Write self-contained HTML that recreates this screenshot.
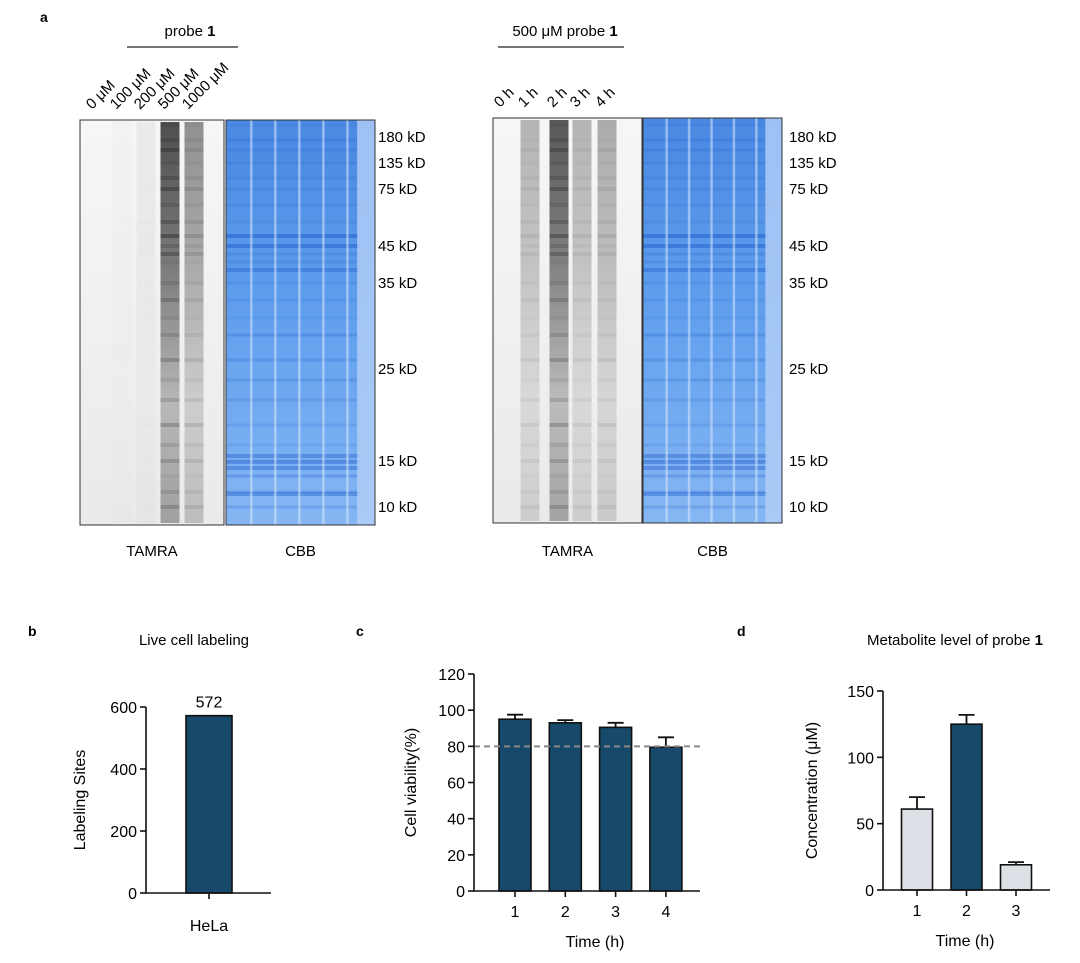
<!DOCTYPE html>
<html><head><meta charset="utf-8"><style>
body{margin:0;background:#fff;}
svg{display:block;font-family:"Liberation Sans",Arial,sans-serif;}
</style></head><body>
<svg id="fig" width="1080" height="963" viewBox="0 0 1080 963">
<defs>
<linearGradient id="cbbG" x1="0" y1="0" x2="0" y2="1">
<stop offset="0" stop-color="#4a88e2"/><stop offset="0.5" stop-color="#62a0ee"/><stop offset="1" stop-color="#86b6f3"/>
</linearGradient>
<linearGradient id="tamG" x1="0" y1="0" x2="0" y2="1">
<stop offset="0" stop-color="#f6f6f6"/><stop offset="1" stop-color="#eaeaea"/>
</linearGradient>
<linearGradient id="laneG" x1="0" y1="0" x2="0" y2="1">
<stop offset="0" stop-color="#000" stop-opacity="0.75"/><stop offset="0.35" stop-color="#000" stop-opacity="0.55"/><stop offset="0.7" stop-color="#000" stop-opacity="0.25"/><stop offset="1" stop-color="#000" stop-opacity="0.35"/>
</linearGradient>
</defs>
<g id="gels"></g>
<g id="charts"></g>
</svg>
<script>
const NS='http://www.w3.org/2000/svg';
function mk(parent,tag,attrs,text){const e=document.createElementNS(NS,tag);for(const k in attrs)e.setAttribute(k,attrs[k]);if(text!==undefined)e.textContent=text;parent.appendChild(e);return e;}
const svg=document.getElementById('fig');
const gels=document.getElementById('gels');

// ---------- Panel a ----------
const doseLabels=['0 μM','100 μM','200 μM','500 μM','1000 μM'];
const timeLabels=['0 h','1 h','2 h','3 h','4 h'];
const markerLabels=['180 kD','135 kD','75 kD','45 kD','35 kD','25 kD','15 kD','10 kD'];
const markerY=[137,163,189,246,283,369,461,507];
const leftIntensity=[0,0.02,0.06,0.9,0.55];
const rightIntensity=[0,0.35,0.85,0.35,0.4];
const bandY=[125,140,150,163,178,189,205,222,236,246,254,262,283,300,318,335,360,380,400,425,445,461,476,492,507];

let t=mk(svg,'text',{x:40,y:22,'font-size':14,'font-weight':'bold'},'a');


function gelPair(x0,w0,x1,w1,y0,y1,intens,lanes,laneCx,laneW,header,headerX,lineX1,lineX2,markX,name){
  const g=mk(gels,'g',{});
  
  const h=mk(g,'text',{x:headerX,y:36,'font-size':15,'text-anchor':'middle'});
  h.innerHTML=header+' <tspan font-weight="bold">1</tspan>';
  
  const l=mk(g,'line',{x1:lineX1,x2:lineX2,y1:47,y2:47,stroke:'#222','stroke-width':1.3});
  
  // TAMRA
  mk(g,'rect',{x:x0,y:y0,width:w0,height:y1-y0,fill:'url(#tamG)'});
  intens.forEach((v,i)=>{
    if(v<=0)return;
    const lx=laneCx[i]-laneW/2;
    const lg=mk(g,'g',{opacity:v});
    
    mk(lg,'rect',{x:lx,y:y0+2,width:laneW,height:y1-y0-4,fill:'url(#laneG)'});
    bandY.forEach((by,j)=>{
      const o=(0.1+0.3*((j*37)%11)/11)*(by<260?1:0.6);
      mk(lg,'rect',{x:lx,y:by-2,width:laneW,height:4,fill:'#000',opacity:o});
    });
  });
  const fr=mk(g,'rect',{x:x0,y:y0,width:w0,height:y1-y0,fill:'none',stroke:'#333','stroke-width':1});
  
  // CBB
  mk(g,'rect',{x:x1,y:y0,width:w1,height:y1-y0,fill:'url(#cbbG)'});
  bandY.forEach((by,j)=>{
    mk(g,'rect',{x:x1,y:by-1.5,width:w1*0.88,height:3,fill:'#2a66d0',opacity:0.12+0.2*((j*13)%7)/7});
  });
  [236,246,270,456,462,468,494].forEach(by=>mk(g,'rect',{x:x1,y:by-2,width:w1*0.9,height:4,fill:'#2460cc',opacity:0.4}));
  for(let i=1;i<=5;i++){
    const sx=x1+i*w1/6.2;
    mk(g,'rect',{x:sx,y:y0,width:2.5,height:y1-y0,fill:'#d6e6fc',opacity:0.55});
  }
  mk(g,'rect',{x:x1+w1*0.88,y:y0,width:w1*0.12,height:y1-y0,fill:'#b3d0f8',opacity:0.8});
  const fc=mk(g,'rect',{x:x1,y:y0,width:w1,height:y1-y0,fill:'none',stroke:'#333','stroke-width':1});
  
  lanes.forEach((s,i)=>{
    const lx=laneCx[i]-6, ly=y0-10;
    const tl=mk(g,'text',{x:lx,y:ly,'font-size':15,transform:`rotate(-45 ${lx} ${ly})`},s);
    
  });
  markerLabels.forEach((s,i)=>{
    const m=mk(g,'text',{x:markX,y:markerY[i]+5,'font-size':15},s);
    
  });
  const a=mk(g,'text',{x:x0+w0/2,y:556,'font-size':15,'text-anchor':'middle'},'TAMRA');
  
  const b=mk(g,'text',{x:x1+w1/2,y:556,'font-size':15,'text-anchor':'middle'},'CBB');
  
}
gelPair(80,144,226,149,120,525,leftIntensity,doseLabels,[98,122,146,170,194],19,'probe',190,127,238,378,'dose-gel-pair');
gelPair(493,149,643,139,118,523,rightIntensity,timeLabels,[506,530,559,582,607],19,'500 μM probe',565,498,624,789,'time-gel-pair');

// ---------- Panel b ----------
const bCats=['HeLa'];
const bVals=[572];
// ---------- Panel c ----------
const cCats=['1','2','3','4'];
const cVals=[95,93,90.5,79.5];
const cErr=[2.5,1.5,2.5,5.5];
const cTicks=[0,20,40,60,80,100,120];
const cThreshold=80;
// ---------- Panel d ----------
const dCats=['1','2','3'];
const dVals=[61,125,19];
const dErr=[9,7,2];
const dTicks=[0,50,100,150];

function chart(o){
  const g=mk(document.getElementById('charts'),'g',{});
  
  const y=v=>o.y0-(v-o.min)/(o.max-o.min)*(o.y0-o.y1);
  const x=i=>o.cx0+i*o.step;
  const pl=mk(g,'text',{x:o.lx,y:o.ly,'font-size':14,'font-weight':'bold'},o.letter);
  
  if(o.title){const tt=mk(g,'text',{x:o.tx,y:o.ty,'font-size':15,'text-anchor':'middle'});tt.innerHTML=o.title;
    }
  o.vals.forEach((v,i)=>{
    if(o.err){
      const e=mk(g,'path',{d:`M${x(i)} ${y(v)}V${y(v+o.err[i])}M${x(i)-8} ${y(v+o.err[i])}H${x(i)+8}`,stroke:'#111','stroke-width':1.8,fill:'none'});
      
    }
    const r=mk(g,'rect',{x:x(i)-o.bw/2,y:y(v),width:o.bw,height:y(o.min)-y(v),fill:o.colors?o.colors[i]:'#17496a',stroke:'#111','stroke-width':1.6});
    
    if(o.showVal){const vt=mk(g,'text',{x:x(i),y:y(v)-8,'font-size':16,'text-anchor':'middle'},String(v));
      }
    const tk=mk(g,'line',{x1:x(i),x2:x(i),y1:o.y0,y2:o.y0+6,stroke:'#111','stroke-width':1.6});
    
    const tl=mk(g,'text',{x:x(i),y:o.y0+(o.catOff||26),'font-size':16,'text-anchor':'middle'},o.cats[i]);
    
  });
  if(o.thr!==undefined){
    const d=mk(g,'line',{x1:o.ax,x2:o.axEnd,y1:y(o.thr),y2:y(o.thr),stroke:'#888','stroke-width':2,'stroke-dasharray':'6 4'});
    
  }
  const ax=mk(g,'path',{d:`M${o.ax} ${y(o.max)}V${o.y0}H${o.axEnd}`,stroke:'#111','stroke-width':1.6,fill:'none'});
  
  o.ticks.forEach(v=>{
    const tk=mk(g,'line',{x1:o.ax-6,x2:o.ax,y1:y(v),y2:y(v),stroke:'#111','stroke-width':1.6});
    
    const tl=mk(g,'text',{x:o.ax-9,y:y(v)+6,'font-size':16,'text-anchor':'end'},String(v));
    
  });
  const yt=mk(g,'text',{x:o.ytx,y:(o.y0+y(o.max))/2,'font-size':16,'text-anchor':'middle',transform:`rotate(-90 ${o.ytx} ${(o.y0+y(o.max))/2})`},o.ytitle);
  
  if(o.xtitle){const xt=mk(g,'text',{x:o.xtx,y:o.y0+56,'font-size':16,'text-anchor':'middle'},o.xtitle);
    }
}
chart({name:'chart-b-live-cell-labeling',letter:'b',lx:28,ly:636,title:'Live cell labeling',tx:194,ty:645,
  cats:bCats,vals:bVals,ticks:[0,200,400,600],min:0,max:600,y0:893,y1:707,ax:146,axEnd:271,cx0:209,step:50,bw:46,
  showVal:true,ytitle:'Labeling Sites',ytx:85,catOff:38});
chart({name:'chart-c-cell-viability',letter:'c',lx:356,ly:636,cats:cCats,vals:cVals,err:cErr,ticks:cTicks,min:0,max:120,
  y0:891,y1:674,ax:474,axEnd:700,cx0:515,step:50.3,bw:32,thr:cThreshold,ytitle:'Cell viability(%)',ytx:416,xtitle:'Time (h)',xtx:595});
chart({name:'chart-d-metabolite-level',letter:'d',lx:737,ly:636,title:'Metabolite level of probe <tspan font-weight="bold">1</tspan>',tx:955,ty:645,
  cats:dCats,vals:dVals,err:dErr,ticks:dTicks,min:0,max:150,y0:890,y1:691,ax:883,axEnd:1050,cx0:917,step:49.5,bw:31,
  colors:['#dde0e6','#17496a','#dde0e6'],ytitle:'Concentration (μM)',ytx:817,xtitle:'Time (h)',xtx:965});
</script>
</body></html>
